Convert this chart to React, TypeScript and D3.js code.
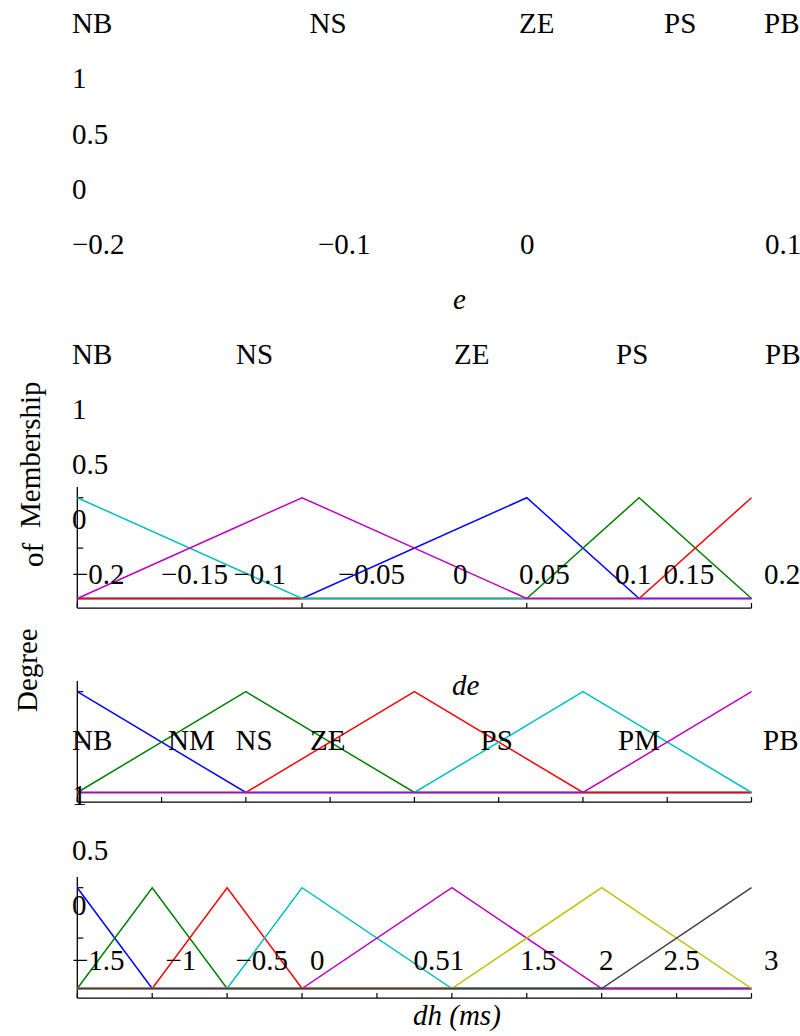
import * as d3 from 'd3'

const W = 800, H = 1036

// e panel
const eDomain = [-0.2, 0.1]
const eTicks = [-0.2, -0.1, 0, 0.1]
const eSets = [[-0.1, 0, 0.05], [0, 0.05, 0.1], [0.05, 0.1, 0.15], [-0.3, -0.2, -0.1], [-0.2, -0.1, 0]]
const eColors = ['#0000ff', '#008000', '#ff0000', '#00bfbf', '#bf00bf']

// de panel
const deDomain = [-0.2, 0.2]
const deTicks = [-0.2, -0.15, -0.1, -0.05, 0, 0.05, 0.1, 0.15, 0.2]
const deSets = [[-0.3, -0.2, -0.1], [-0.2, -0.1, 0], [-0.1, 0, 0.1], [0, 0.1, 0.2], [0.1, 0.2, 0.3]]
const deColors = ['#0000ff', '#008000', '#ff0000', '#00bfbf', '#bf00bf']

// dh panel
const dhDomain = [-1.5, 3]
const dhTicks = [-1.5, -1, -0.5, 0, 0.5, 1, 1.5, 2, 2.5, 3]
const dhSets = [[-2, -1.5, -1], [-1.5, -1, -0.5], [-1, -0.5, 0], [-0.5, 0, 1], [0, 1, 2], [1, 2, 3], [2, 3, 4]]
const dhColors = ['#0000ff', '#008000', '#ff0000', '#00bfbf', '#bf00bf', '#bfbf00', '#404040']

const yTicks = [0, 0.5, 1]

// texts (as they sit in the figure)
const eLetters = ['NB', 'NS', 'ZE', 'PS', 'PB']
const yTickLabels = ['1', '0.5', '0']
const eTickLabels = ['\u22120.2', '\u22120.1', '0', '0.1']
const deLetters = ['NB', 'NS', 'ZE', 'PS', 'PB']
const deTickLabels = ['\u22120.2', '\u22120.15', '\u22120.1', '\u22120.05', '0', '0.05', '0.1', '0.15', '0.2']
const dhLetters = ['NB', 'NM', 'NS', 'ZE', 'PS', 'PM', 'PB']
const dhTickLabels = ['\u22121.5', '\u22121', '\u22120.5', '0', '0.51', '1.5', '2', '2.5', '3']

// layout
const left = 77.3, right = 751.5
const colE = [72, 309.5, 519, 664, 764]
const colETick = [72, 318, 520, 765]
const colDeL = [72, 236, 454, 616, 765]
const colDeTick = [72, 161, 233.5, 338, 453, 519, 615, 663.5, 764]
const colDhL = [72, 168, 235.5, 310, 480.5, 618, 763]
const colDhTick = [72, 165.5, 235.5, 310, 413.5, 520, 599, 663.5, 764]
const rowY = (k: number) => 33.3 + 55.1 * k

const font = 'Liberation Serif, Times New Roman, DejaVu Serif, serif'

const trimf = (x: number, [a, b, c]: number[]) =>
  Math.max(Math.min((x - a) / (b - a), (c - x) / (c - b)), 0)

const Panel = ({ base, domain, ticks, sets, colors }: any) => {
  const x = d3.scaleLinear().domain(domain).range([left, right])
  const y = d3.scaleLinear().domain([0, 1]).range([base, base - 100.8])
  const line = d3.line<number[]>().x(d => x(d[0])).y(d => y(d[1]))
  const bottom = y(-0.095)
  const top = y(1.105)
  return (
    <g>
      <line x1={left} x2={left} y1={top} y2={bottom} stroke="#000" strokeWidth={1.3} />
      <line x1={left} x2={right} y1={bottom} y2={bottom} stroke="#000" strokeWidth={1.3} />
      {ticks.map((t: number, i: number) => (
        <line key={'t' + i} x1={x(t)} x2={x(t)} y1={bottom} y2={bottom - 5} stroke="#000" strokeWidth={1.2} />
      ))}
      {yTicks.map((t, i) => (
        <line key={'y' + i} x1={left} x2={left + 6} y1={y(t)} y2={y(t)} stroke="#000" strokeWidth={1.2} />
      ))}
      {sets.map((s: number[], i: number) => {
        const xs = Array.from(new Set([domain[0], ...s, domain[1]]))
          .filter(v => v >= domain[0] && v <= domain[1])
          .sort((a, b) => a - b)
        const pts = xs.map(v => [v, trimf(v, s)])
        return <path key={i} d={line(pts) as string} fill="none" stroke={colors[i]} strokeWidth={1.5} />
      })}
    </g>
  )
}

const Row = ({ k, labels, cols }: { k: number, labels: string[], cols: number[] }) => (
  <g>
    {labels.map((l, i) => (
      <text key={i} x={cols[i]} y={rowY(k)}>{l}</text>
    ))}
  </g>
)

export default function App() {
  return (
    <svg width={W} height={H} style={{ position: 'absolute', left: 0, top: 0, background: '#fff', fontFamily: font, fontSize: 29 }}
      fill="#000">
      <Panel base={598.5} domain={eDomain} ticks={eTicks} sets={eSets} colors={eColors} />
      <Panel base={792.5} domain={deDomain} ticks={deTicks} sets={deSets} colors={deColors} />
      <Panel base={988.5} domain={dhDomain} ticks={dhTicks} sets={dhSets} colors={dhColors} />

      <Row k={0} labels={eLetters} cols={colE} />
      {yTickLabels.map((l, i) => <text key={'a' + i} x={72} y={rowY(1 + i)}>{l}</text>)}
      <Row k={4} labels={eTickLabels} cols={colETick} />
      <text x={453} y={rowY(5)} fontStyle="italic">e</text>

      <Row k={6} labels={deLetters} cols={colDeL} />
      {yTickLabels.map((l, i) => <text key={'b' + i} x={72} y={rowY(7 + i)}>{l}</text>)}
      <Row k={10} labels={deTickLabels} cols={colDeTick} />
      <text x={452} y={rowY(12)} fontStyle="italic">de</text>

      <Row k={13} labels={dhLetters} cols={colDhL} />
      {yTickLabels.map((l, i) => <text key={'c' + i} x={72} y={rowY(14 + i)}>{l}</text>)}
      <Row k={17} labels={dhTickLabels} cols={colDhTick} />
      <text x={413} y={rowY(18)} fontStyle="italic">dh (ms)</text>

      <g transform="rotate(-90)">
        <text x={-528} y={40}>Membership</text>
        <text x={-567} y={43}>of</text>
        <text x={-712} y={37}>Degree</text>
      </g>
    </svg>
  )
}
